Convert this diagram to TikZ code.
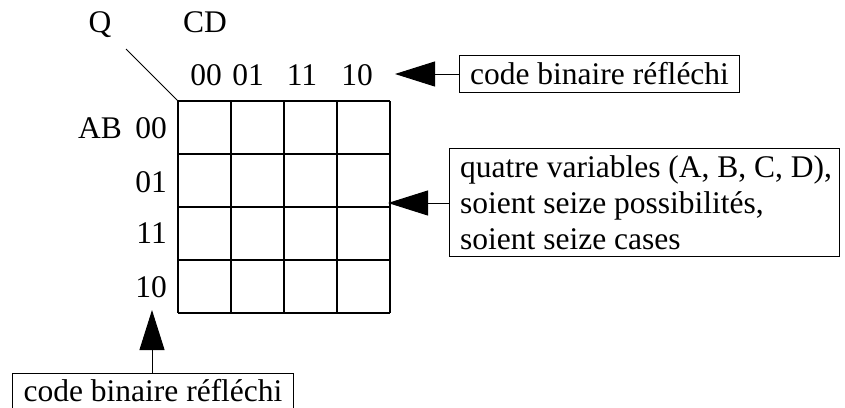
\documentclass[tikz,border=0pt]{standalone}
\usepackage{fontspec}
\setmainfont{Liberation Serif}
\usetikzlibrary{arrows.meta}
\begin{document}
\begin{tikzpicture}[x=1pt,y=-1pt,
  every node/.style={font=\fontsize{31.5}{36}\selectfont},
  lbl/.style={inner sep=0pt},
  gridline/.style={line width=1.2pt},
  boxnode/.style={draw,line width=1pt,inner sep=0pt},
  arr/.style={line width=1pt,-{Triangle[length=40pt,width=25pt]}}]
\useasboundingbox (0,0) rectangle (845,407);
% grid
\coordinate (g) at (178,101);
\foreach \i in {0,...,4}{
  \draw[gridline] (178+53*\i,101) -- (178+53*\i,313);
  \draw[gridline] (178,101+53*\i) -- (390,101+53*\i);
}
\coordinate (d) at (126,49);
\draw[line width=0.8pt] (d) -- (g);
% labels
\node[lbl,anchor=base] (q) at (100,32) {Q};
\node[lbl,anchor=base] (cd) at (205,32) {CD};
\node[lbl,anchor=base] (c1) at (206,85) {00};
\node[lbl,anchor=base] (c2) at (248,85) {01};
\node[lbl,anchor=base] (c3) at (302,85) {11};
\node[lbl,anchor=base] (c4) at (357,85) {10};
\node[lbl,anchor=base east] (ab) at (122,138) {AB};
\node[lbl,anchor=base east] (r1) at (167,138) {00};
\node[lbl,anchor=base east] (r2) at (167,192) {01};
\node[lbl,anchor=base east] (r3) at (167,243) {11};
\node[lbl,anchor=base east] (r4) at (167,297) {10};
% boxes
\node[boxnode,anchor=north west,minimum width=280pt,minimum height=37pt] (tbox) at (459,55) {code binaire réfléchi};
\node[boxnode,anchor=north west,minimum width=390pt,minimum height=108pt] (rbox) at (449,148) {};
\node[lbl,anchor=west,align=left,xshift=11pt] (rtext) at (rbox.west)
  {quatre variables (A, B, C, D),\\soient seize possibilités,\\soient seize cases};
\node[boxnode,anchor=north west,minimum width=281pt,minimum height=35pt] (bbox) at (12,373) {code binaire réfléchi};
% arrows
\coordinate (ta) at (395,74);
\coordinate (ra) at (388,203);
\coordinate (ba) at (152,310);
\draw[arr] (tbox.west) -- (ta);
\draw[arr] (ra -| rbox.west) -- (ra);
\draw[arr] (ba |- bbox.north) -- (ba);
\end{tikzpicture}
\end{document}
